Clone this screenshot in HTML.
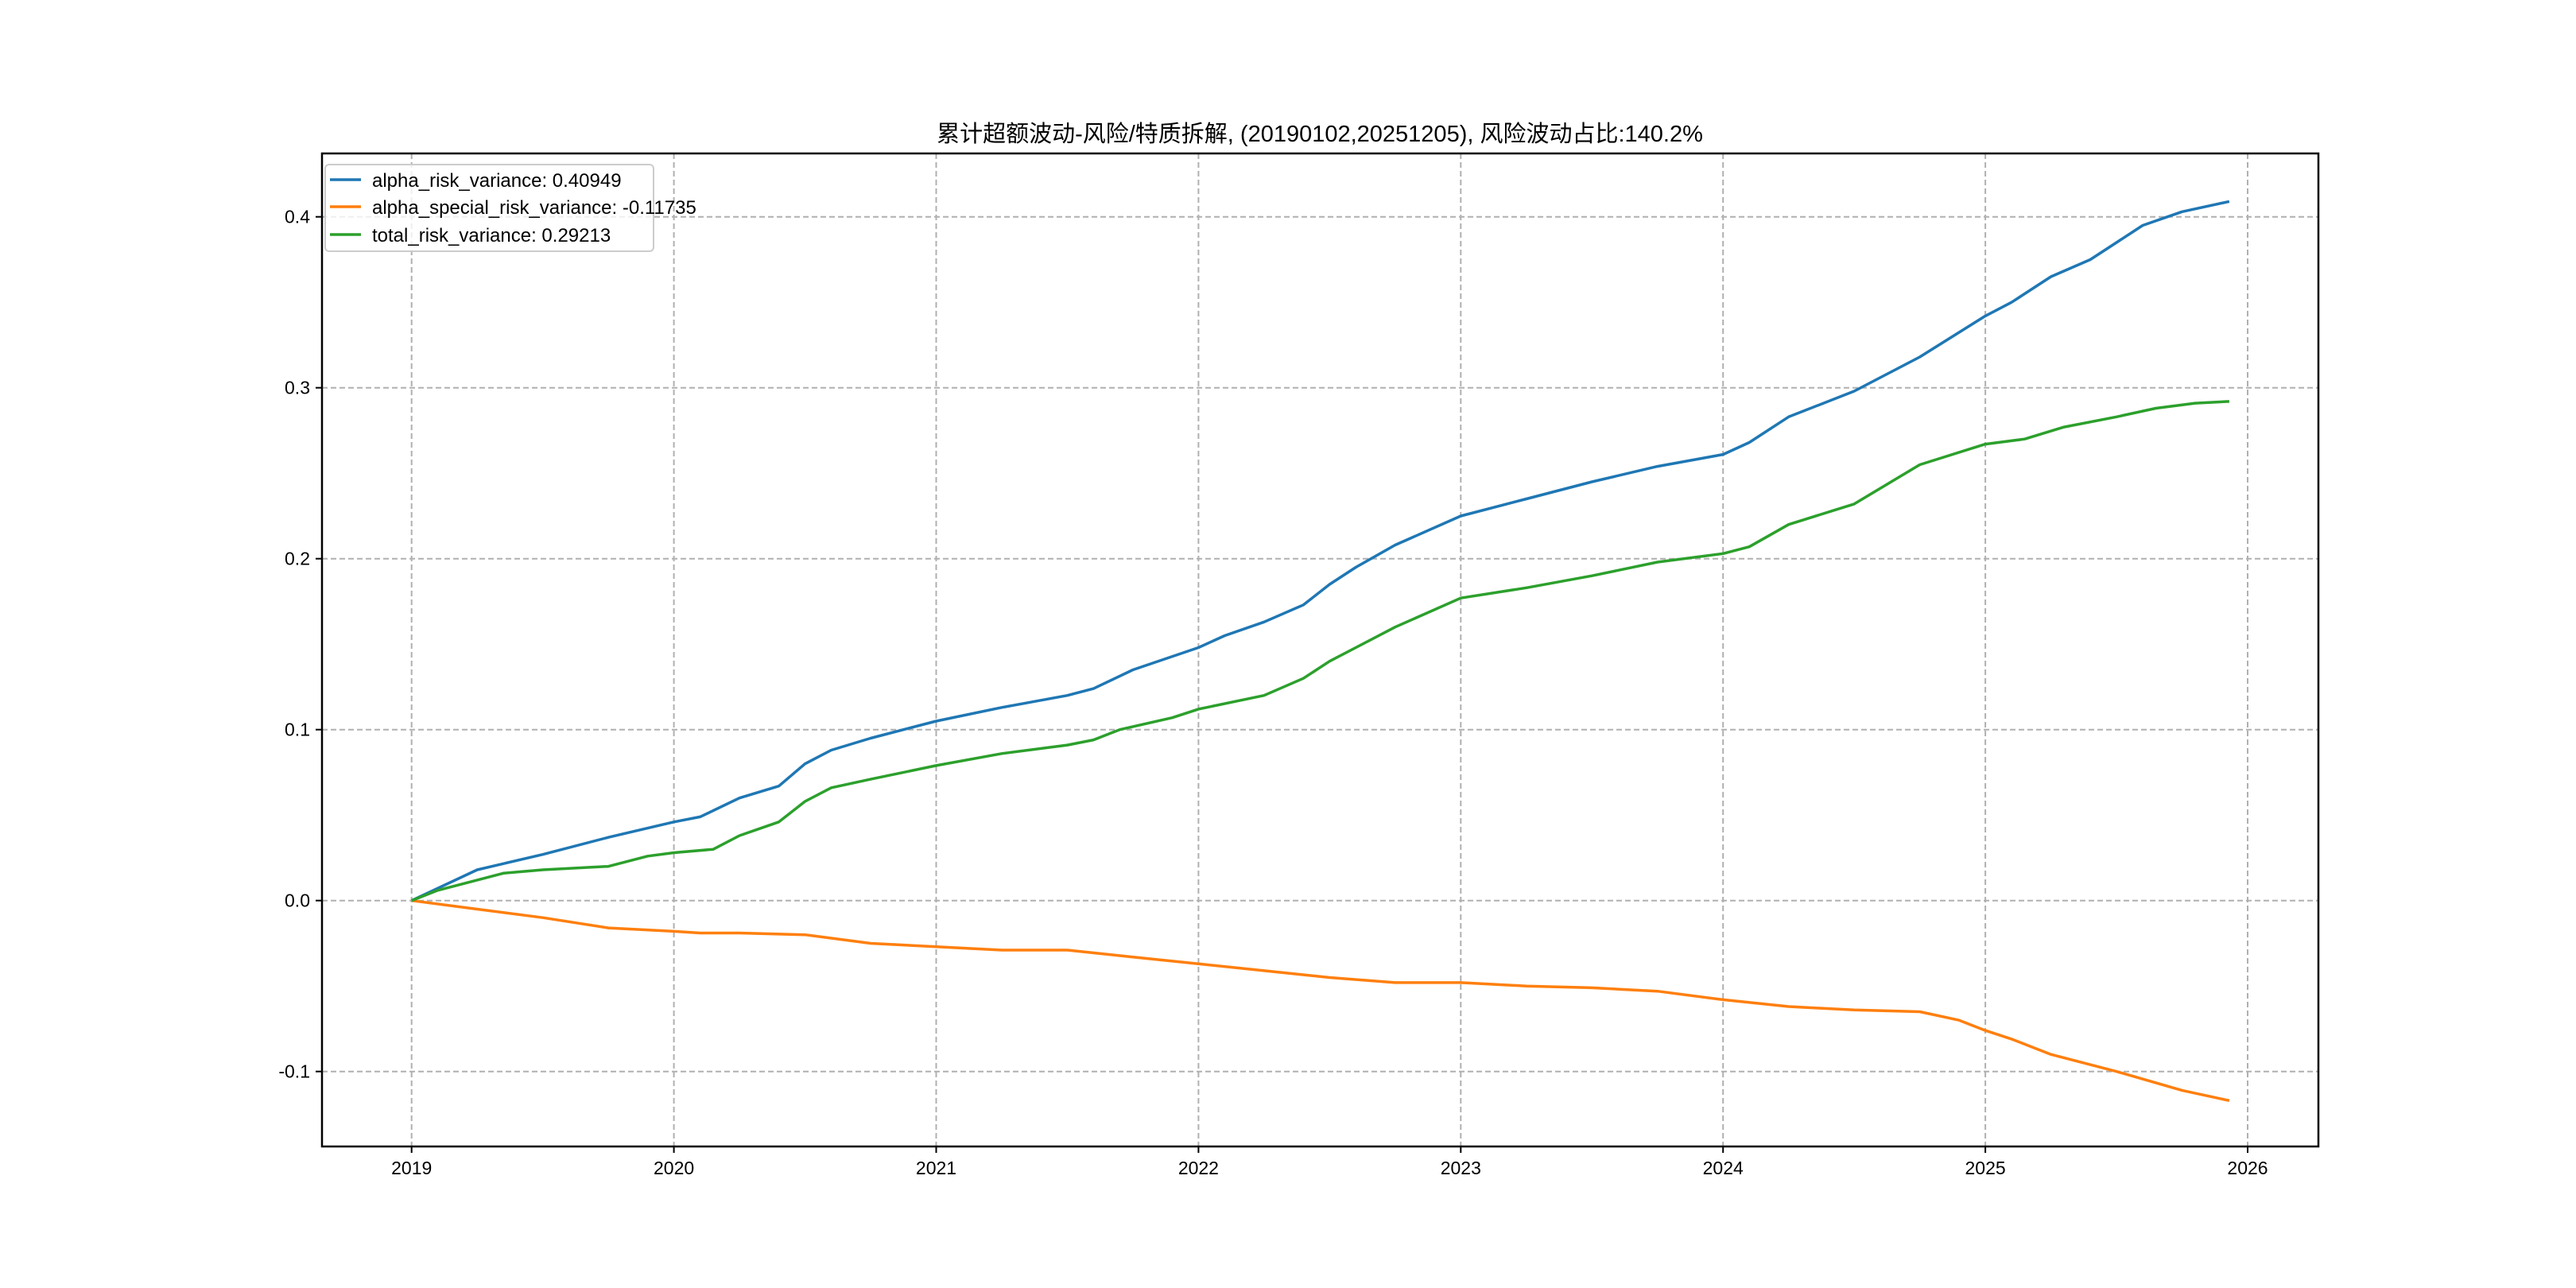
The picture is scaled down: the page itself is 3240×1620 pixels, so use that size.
<!DOCTYPE html>
<html><head><meta charset="utf-8"><style>
html,body{margin:0;padding:0;background:#fff}
svg{display:block}
text{font-family:"WenQuanYi Zen Hei","Liberation Sans","Noto Sans CJK SC",sans-serif;fill:#000}
</style></head><body>
<svg id="chart" width="3240" height="1620" viewBox="0 0 3240 1620" xmlns="http://www.w3.org/2000/svg">
<rect width="3240" height="1620" fill="#fff"/>
<text x="1660" y="178" font-size="29" text-anchor="middle">累计超额波动-风险/特质拆解, (20190102,20251205), 风险波动占比:140.2%</text>
<g id="grid"></g>
<g id="series"></g>
<rect x="405" y="193" width="2511" height="1249" fill="none" stroke="#000" stroke-width="2.5"/>
<g id="axes"></g>
<g id="legend">
<rect x="409" y="207" width="413" height="109" rx="5" fill="#fff" fill-opacity="0.8" stroke="#ccc" stroke-width="2"/>
<line x1="415" y1="226" x2="454" y2="226" stroke="#1f77b4" stroke-width="3.5"/>
<text x="468" y="235" font-size="24">alpha_risk_variance: 0.40949</text>
<line x1="415" y1="260" x2="454" y2="260" stroke="#ff7f0e" stroke-width="3.5"/>
<text x="468" y="269" font-size="24">alpha_special_risk_variance: -0.11735</text>
<line x1="415" y1="295" x2="454" y2="295" stroke="#2ca02c" stroke-width="3.5"/>
<text x="468" y="304" font-size="24">total_risk_variance: 0.29213</text>
</g>
</svg>
<script>
const xTickLabels = ["2019","2020","2021","2022","2023","2024","2025","2026"];
const yTickValues = [-0.1,0,0.1,0.2,0.3,0.4];
const yTickLabels = ["-0.1","0.0","0.1","0.2","0.3","0.4"];
const blueT = [2019.0,2019.25,2019.5,2019.75,2020.0,2020.1,2020.25,2020.4,2020.5,2020.6,2020.75,2021.0,2021.25,2021.5,2021.6,2021.75,2022.0,2022.1,2022.25,2022.4,2022.5,2022.6,2022.75,2023.0,2023.25,2023.5,2023.75,2024.0,2024.1,2024.25,2024.5,2024.75,2025.0,2025.1,2025.25,2025.4,2025.5,2025.6,2025.75,2025.93];
const blueV = [0,0.018,0.027,0.037,0.046,0.049,0.06,0.067,0.08,0.088,0.095,0.105,0.113,0.12,0.124,0.135,0.148,0.155,0.163,0.173,0.185,0.195,0.208,0.225,0.235,0.245,0.254,0.261,0.268,0.283,0.298,0.318,0.342,0.35,0.365,0.375,0.385,0.395,0.403,0.409];
const greenT = [2019.0,2019.1,2019.25,2019.35,2019.5,2019.75,2019.9,2020.0,2020.15,2020.25,2020.4,2020.5,2020.6,2020.75,2021.0,2021.25,2021.5,2021.6,2021.7,2021.9,2022.0,2022.25,2022.4,2022.5,2022.6,2022.75,2023.0,2023.25,2023.5,2023.75,2024.0,2024.1,2024.25,2024.5,2024.75,2025.0,2025.15,2025.3,2025.5,2025.65,2025.8,2025.93];
const greenV = [0,0.006,0.012,0.016,0.018,0.02,0.026,0.028,0.03,0.038,0.046,0.058,0.066,0.071,0.079,0.086,0.091,0.094,0.1,0.107,0.112,0.12,0.13,0.14,0.148,0.16,0.177,0.183,0.19,0.198,0.203,0.207,0.22,0.232,0.255,0.267,0.27,0.277,0.283,0.288,0.291,0.292];
const orangeT = [2019.0,2019.25,2019.5,2019.75,2020.0,2020.1,2020.25,2020.5,2020.75,2021.0,2021.25,2021.5,2021.75,2022.0,2022.25,2022.5,2022.75,2023.0,2023.25,2023.5,2023.75,2024.0,2024.25,2024.5,2024.75,2024.9,2025.0,2025.1,2025.25,2025.5,2025.75,2025.93];
const orangeV = [0,-0.005,-0.01,-0.016,-0.018,-0.019,-0.019,-0.02,-0.025,-0.027,-0.029,-0.029,-0.033,-0.037,-0.041,-0.045,-0.048,-0.048,-0.05,-0.051,-0.053,-0.058,-0.062,-0.064,-0.065,-0.07,-0.076,-0.081,-0.09,-0.1,-0.111,-0.117];

const NS="http://www.w3.org/2000/svg";
const X0=517.7, PXY=329.9;
function xs(t){return X0+(t-2019)*PXY;}
function ys(v){return 1132.7-v*2150;}
function mk(tag,parent){const e=document.createElementNS(NS,tag);parent.appendChild(e);return e;}
const grid=document.getElementById('grid'), axes=document.getElementById('axes'), series=document.getElementById('series');
xTickLabels.forEach((lab,i)=>{
  const x=xs(2019+i);
  const g=mk('line',grid);
  
  
  g.setAttribute('x1',x);g.setAttribute('x2',x);g.setAttribute('y1',193);g.setAttribute('y2',1442);
  g.setAttribute('stroke','#b0b0b0');g.setAttribute('stroke-width','2');g.setAttribute('stroke-dasharray','7,4');
  const tk=mk('line',axes);
  
  
  tk.setAttribute('x1',x);tk.setAttribute('x2',x);tk.setAttribute('y1',1442);tk.setAttribute('y2',1450);
  tk.setAttribute('stroke','#000');tk.setAttribute('stroke-width','2');
  const t=mk('text',axes);
  
  
  t.setAttribute('x',x);t.setAttribute('y',1477);t.setAttribute('font-size','23');t.setAttribute('text-anchor','middle');
  t.textContent=lab;
});
yTickValues.forEach((v,i)=>{
  const y=ys(v);
  const g=mk('line',grid);
  
  
  g.setAttribute('x1',405);g.setAttribute('x2',2916);g.setAttribute('y1',y);g.setAttribute('y2',y);
  g.setAttribute('stroke','#b0b0b0');g.setAttribute('stroke-width','2');g.setAttribute('stroke-dasharray','7,4');
  const tk=mk('line',axes);
  
  
  tk.setAttribute('x1',397);tk.setAttribute('x2',405);tk.setAttribute('y1',y);tk.setAttribute('y2',y);
  tk.setAttribute('stroke','#000');tk.setAttribute('stroke-width','2');
  const t=mk('text',axes);
  
  
  t.setAttribute('x',390);t.setAttribute('y',y+8);t.setAttribute('font-size','23');t.setAttribute('text-anchor','end');
  t.textContent=yTickLabels[i];
});
function drawLine(T,V,color,name){
  const p=mk('polyline',series);
  
  
  p.setAttribute('points',T.map((t,i)=>xs(t).toFixed(1)+','+ys(V[i]).toFixed(1)).join(' '));
  p.setAttribute('fill','none');p.setAttribute('stroke',color);p.setAttribute('stroke-width','3.5');
  p.setAttribute('stroke-linejoin','round');
}
drawLine(blueT,blueV,'#1f77b4','alpha-risk-variance-line');
drawLine(orangeT,orangeV,'#ff7f0e','alpha-special-risk-variance-line');
drawLine(greenT,greenV,'#2ca02c','total-risk-variance-line');
</script>
</body></html>
